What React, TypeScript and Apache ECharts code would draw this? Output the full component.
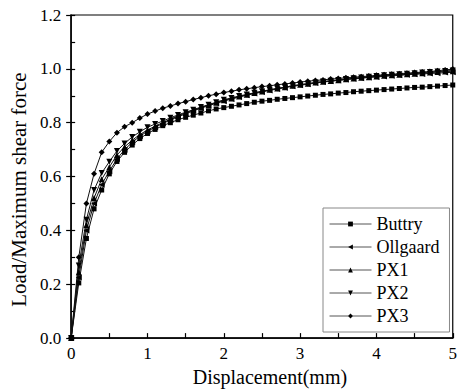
import React, { useEffect, useRef } from "react";
import * as echarts from "echarts";

const displacement = [
  0, 0.1, 0.2, 0.3, 0.4, 0.5, 0.6, 0.7, 0.8, 0.9,
  1.0, 1.1, 1.2, 1.3, 1.4, 1.5, 1.6, 1.7, 1.8, 1.9,
  2.0, 2.1, 2.2, 2.3, 2.4, 2.5, 2.6, 2.7, 2.8, 2.9,
  3.0, 3.1, 3.2, 3.3, 3.4, 3.5, 3.6, 3.7, 3.8, 3.9,
  4.0, 4.1, 4.2, 4.3, 4.4, 4.5, 4.6, 4.7, 4.8, 4.9, 5.0,
];

const buttry = [
  0, 0.205, 0.37, 0.48, 0.55, 0.61, 0.656, 0.69, 0.717, 0.741,
  0.76, 0.775, 0.789, 0.8, 0.811, 0.82, 0.828, 0.836, 0.844, 0.851,
  0.856, 0.861, 0.866, 0.871, 0.876, 0.88, 0.883, 0.887, 0.89, 0.893,
  0.896, 0.899, 0.902, 0.905, 0.907, 0.91, 0.912, 0.915, 0.917, 0.919,
  0.921, 0.923, 0.925, 0.927, 0.929, 0.931, 0.932, 0.934, 0.936, 0.938, 0.94,
];

const ollgaard = [
  0, 0.225, 0.4, 0.5, 0.57, 0.62, 0.665, 0.7, 0.727, 0.75,
  0.768, 0.783, 0.797, 0.81, 0.822, 0.833, 0.844, 0.854, 0.863, 0.872,
  0.88, 0.888, 0.895, 0.902, 0.908, 0.914, 0.92, 0.925, 0.93, 0.935,
  0.939, 0.943, 0.947, 0.951, 0.954, 0.957, 0.96, 0.963, 0.965, 0.968,
  0.97, 0.972, 0.974, 0.976, 0.978, 0.98, 0.981, 0.983, 0.984, 0.986, 0.987,
];

const px1 = [
  0, 0.245, 0.42, 0.52, 0.59, 0.635, 0.68, 0.71, 0.735, 0.756,
  0.773, 0.787, 0.8, 0.813, 0.825, 0.836, 0.846, 0.856, 0.865, 0.874,
  0.883, 0.89, 0.897, 0.904, 0.91, 0.916, 0.922, 0.927, 0.932, 0.937,
  0.941, 0.945, 0.949, 0.952, 0.955, 0.958, 0.961, 0.964, 0.967, 0.969,
  0.972, 0.974, 0.976, 0.978, 0.98, 0.982, 0.984, 0.986, 0.988, 0.99, 0.991,
];

const px2 = [
  0, 0.27, 0.44, 0.55, 0.613, 0.655, 0.695, 0.723, 0.747, 0.766,
  0.783, 0.795, 0.806, 0.818, 0.829, 0.839, 0.848, 0.858, 0.867, 0.876,
  0.885, 0.892, 0.899, 0.905, 0.911, 0.917, 0.922, 0.927, 0.932, 0.937,
  0.941, 0.945, 0.949, 0.953, 0.956, 0.959, 0.962, 0.965, 0.968, 0.971,
  0.973, 0.976, 0.978, 0.98, 0.982, 0.984, 0.986, 0.988, 0.99, 0.992, 0.994,
];

const px3 = [
  0, 0.3, 0.5, 0.61, 0.69, 0.73, 0.763, 0.785, 0.8, 0.817,
  0.832, 0.843, 0.854, 0.862, 0.871, 0.878, 0.886, 0.893, 0.9, 0.906,
  0.912, 0.917, 0.922, 0.926, 0.93, 0.934, 0.937, 0.941, 0.944, 0.947,
  0.951, 0.954, 0.957, 0.959, 0.962, 0.964, 0.967, 0.969, 0.971, 0.973,
  0.976, 0.978, 0.98, 0.982, 0.984, 0.986, 0.988, 0.99, 0.993, 0.996, 0.999,
];

const seriesDefs = [
  { name: "Buttry", values: buttry, symbol: "rect", rotate: 0, size: 5 },
  { name: "Ollgaard", values: ollgaard, symbol: "triangle", rotate: 90, size: 6 },
  { name: "PX1", values: px1, symbol: "triangle", rotate: 0, size: 6 },
  { name: "PX2", values: px2, symbol: "triangle", rotate: 180, size: 6 },
  { name: "PX3", values: px3, symbol: "diamond", rotate: 0, size: 6 },
];

const FONT = "'Liberation Serif', 'Times New Roman', serif";

export default function App() {
  const ref = useRef<HTMLDivElement>(null);
  useEffect(() => {
    if (!ref.current) return;
    const chart = echarts.init(ref.current, undefined, { renderer: "svg" });
    chart.setOption({
      animation: false,
      backgroundColor: "#fff",
      textStyle: { fontFamily: FONT, color: "#000" },
      grid: {
        left: 69,
        right: 5,
        top: 15,
        bottom: 50,
        show: true,
        borderColor: "#000",
        borderWidth: 1.2,
        backgroundColor: "transparent",
      },
      legend: {
        orient: "vertical",
        left: 323,
        top: 208,
        itemWidth: 42,
        itemHeight: 6,
        itemGap: 3,
        padding: [6, 10, 6, 6],
        borderColor: "#888",
        borderWidth: 1,
        lineStyle: { color: "#555", width: 1 },
        textStyle: { fontFamily: FONT, fontSize: 18, color: "#000", lineHeight: 20 },
        data: seriesDefs.map((s) => s.name),
      },
      xAxis: {
        type: "value",
        min: 0,
        max: 5,
        interval: 1,
        name: "Displacement(mm)",
        nameLocation: "middle",
        nameGap: 28,
        nameTextStyle: { fontFamily: FONT, fontSize: 20, color: "#000", padding: [0, 0, 0, 16] },
        axisLine: { show: true, lineStyle: { color: "#000", width: 1.5 } },
        axisTick: { show: true, inside: true, length: 5, lineStyle: { color: "#000", width: 1.2 } },
        minorTick: { show: true, splitNumber: 2, length: 5, lineStyle: { color: "#000", width: 1.2 } },
        axisLabel: { fontFamily: FONT, fontSize: 17, color: "#000", margin: 7 },
        splitLine: { show: false },
      },
      yAxis: [
        {
          type: "value",
          min: 0,
          max: 1.2,
          interval: 0.2,
          name: "Load/Maximum shear force",
          nameLocation: "middle",
          nameGap: 42,
          nameTextStyle: { fontFamily: FONT, fontSize: 21, color: "#000", padding: [0, 26, 0, 0] },
          axisLine: { show: true, lineStyle: { color: "#000", width: 1.5 } },
          axisTick: { show: true, inside: false, length: 5, lineStyle: { color: "#000", width: 1.2 } },
          axisLabel: {
            fontFamily: FONT,
            fontSize: 17,
            color: "#000",
            margin: 10,
            formatter: (v: number) => v.toFixed(1),
          },
          splitLine: { show: false },
        },
        {
          type: "value",
          min: 0,
          max: 1.2,
          interval: 0.1,
          position: "left",
          axisLine: { show: false },
          axisTick: { show: true, inside: true, length: 4, lineStyle: { color: "#000", width: 1.2 } },
          axisLabel: { show: false },
          splitLine: { show: false },
        },
      ],
      series: seriesDefs.map((s) => ({
        name: s.name,
        type: "line",
        xAxisIndex: 0,
        yAxisIndex: 0,
        data: displacement.map((x, i) => [x, s.values[i]]),
        symbol: s.symbol,
        symbolRotate: s.rotate,
        symbolSize: s.size,
        showAllSymbol: true,
        lineStyle: { color: "#111", width: 1 },
        itemStyle: { color: "#000" },
        emphasis: { disabled: true },
      })),
    });
    return () => chart.dispose();
  }, []);
  return (
    <div
      ref={ref}
      style={{ position: "fixed", left: 0, top: 0, width: 460, height: 392 }}
    />
  );
}
